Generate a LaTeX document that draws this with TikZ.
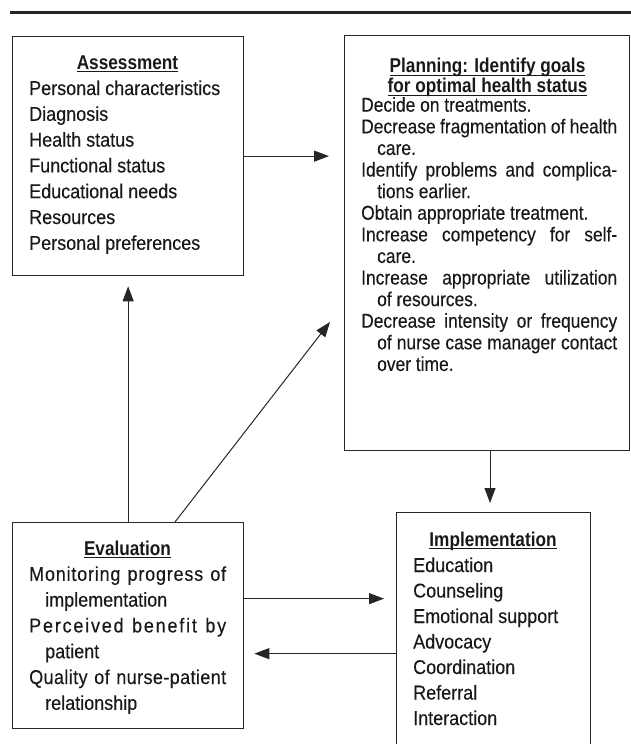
\documentclass[tikz,border=0pt]{standalone}
\usepackage{fontspec}
\usetikzlibrary{arrows.meta}
\newfontfamily\bodyfont{Liberation Sans}[FakeStretch=0.9, FakeBold=0.25]
\newfontfamily\planfont{Liberation Sans}[FakeStretch=0.87, FakeBold=0.25]
\newfontfamily\headfont{Liberation Sans Bold}[FakeStretch=0.86]
\newcommand\ulx[1]{\setbox0\hbox{#1}\rlap{\rule[-3.2pt]{\wd0}{1.3pt}}\box0}
\begin{document}
\begin{tikzpicture}[x=1pt,y=-1pt,
  box/.style={draw=black!85, line width=1.3pt, inner sep=0pt, anchor=north west},
  arr/.style={draw=black!85, line width=1pt, -{Triangle[length=15pt,width=11pt]}},
  txt/.style={inner sep=0pt, anchor=base west, text=black!90, font=\bodyfont\fontsize{20}{23}\selectfont},
  ptxt/.style={txt, font=\planfont\fontsize{20}{23}\selectfont},
  head/.style={inner sep=0pt, anchor=base, text=black!90, font=\headfont\fontsize{20}{23}\selectfont}]
\useasboundingbox (0,0) rectangle (631,744);
\clip (0,0) rectangle (631,744);
\draw[line width=2.6pt, black!85] (10,12.5) -- (631,12.5);
% boxes
\node[box, minimum width=231pt, minimum height=239pt] (assess) at (12,36) {};
\node[box, minimum width=285pt, minimum height=415pt] (plan) at (344,35) {};
\node[box, minimum width=231pt, minimum height=206pt] (eval) at (12,522) {};
\node[box, minimum width=194pt, minimum height=260pt] (impl) at (396,512) {};
% Assessment text
\node[head] (ash) at (127.5,69) {\ulx{Assessment}};
\foreach \t [count=\i] in {Personal characteristics, Diagnosis, Health status, Functional status, Educational needs, Resources, Personal preferences}
  \node[txt] (as\i) at (29,{95+25.8*(\i-1)}) {\t};
% Planning text
\node[head] (plh1) at (487.5,72.7) {\ulx{Planning: Identify goals}};
\node[head] (plh2) at (487.5,92.7) {\ulx{for optimal health status}};
\node[ptxt] (pl0) at (361,111.7) {Decide on treatments.};
\node[ptxt] (pl1) at (361,133.3) {\makebox[256pt][s]{Decrease fragmentation of health}};
\node[ptxt] (pl2) at (377,154.9) {care.};
\node[ptxt] (pl3) at (361,176.5) {\makebox[256pt][s]{Identify problems and complica-}};
\node[ptxt] (pl4) at (377,198.1) {tions earlier.};
\node[ptxt] (pl5) at (361,219.7) {Obtain appropriate treatment.};
\node[ptxt] (pl6) at (361,241.3) {\makebox[256pt][s]{Increase competency for self-}};
\node[ptxt] (pl7) at (377,262.9) {care.};
\node[ptxt] (pl8) at (361,284.5) {\makebox[256pt][s]{Increase appropriate utilization}};
\node[ptxt] (pl9) at (377,306.1) {of resources.};
\node[ptxt] (pl10) at (361,327.7) {\makebox[256pt][s]{Decrease intensity or frequency}};
\node[ptxt] (pl11) at (377,349.3) {\makebox[240pt][s]{of nurse case manager contact}};
\node[ptxt] (pl12) at (377,370.9) {over time.};
% Evaluation text
\node[head] (evh) at (127.5,555) {\ulx{Evaluation}};
\node[txt] (ev0) at (29,580.8) {\makebox[197pt][s]{\addfontfeature{LetterSpace=4}Monitoring progress of}};
\node[txt] (ev1) at (45,606.6) {implementation};
\node[txt] (ev2) at (29,632.4) {\makebox[197pt][s]{\addfontfeature{LetterSpace=9}Perceived benefit by}};
\node[txt] (ev3) at (45,658.2) {patient};
\node[txt] (ev4) at (29,684) {\makebox[197pt][s]{\addfontfeature{LetterSpace=2}Quality of nurse-patient}};
\node[txt] (ev5) at (45,709.8) {relationship};
% Implementation text
\node[head] (imh) at (493,546) {\ulx{Implementation}};
\foreach \t [count=\i] in {Education, Counseling, Emotional support, Advocacy, Coordination, Referral, Interaction}
  \node[txt] (im\i) at (413,{572+25.5*(\i-1)}) {\t};
% connectors
\coordinate (d1) at (175,522);
\coordinate (d2) at (330,322);
\coordinate (p1) at (490,450);
\coordinate (p2) at (490,503);
\draw[arr, shorten >=15pt] (assess.east) -- (assess.east -| plan.west);
\draw[arr, shorten >=10pt] (eval.north) -- (assess.south);
\draw[arr] (d1) -- (d2);
\draw[arr] (p1) -- (p2);
\draw[arr, shorten >=12pt] ([yshift=27pt]eval.east) -- ([yshift=27pt]eval.east -| impl.west);
\draw[arr, shorten >=10pt] ([yshift=-28pt]eval.east -| impl.west) -- ([yshift=-28pt]eval.east);
\end{tikzpicture}
\end{document}
